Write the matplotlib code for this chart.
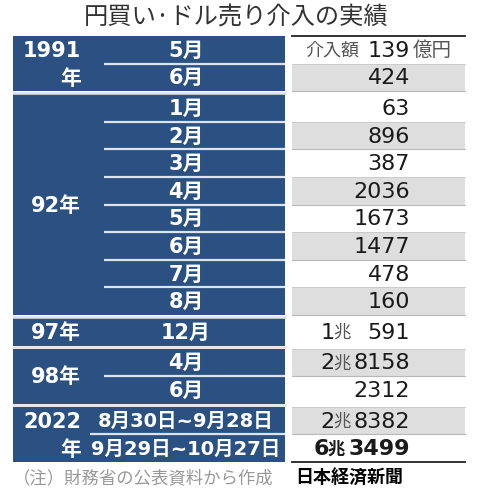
import matplotlib
matplotlib.use("Agg")
from matplotlib import pyplot as plt
from matplotlib.patches import Rectangle

plt.rcParams['font.family'] = ['Noto Sans CJK JP', 'DejaVu Sans']
NUMFONT = ['DejaVu Sans', 'Noto Sans CJK JP']

# data
years = ['1991\n年', '92年', '97年', '98年', '2022\n年']
periods = [
    ['5月', '6月'],
    ['1月', '2月', '3月', '4月', '5月', '6月', '7月', '8月'],
    ['12月'],
    ['4月', '6月'],
    ['8月30日~9月28日', '9月29日~10月27日'],
]
amounts = [139, 424, 63, 896, 387, 2036, 1673, 1477, 478, 160,
           10591, 28158, 2312, 28382, 63499]  # 億円
title = '円買い·ドル売り介入の実績'
note = '（注）財務省の公表資料から作成'
source = '日本経済新聞'

NAVY = '#2b5082'
SEP = '#dde4ee'
W, H = 493, 494

fig = plt.figure(figsize=(W / 100, H / 100), dpi=100)
ax = fig.add_axes([0, 0, 1, 1])
ax.set_xlim(0, W)
ax.set_ylim(H, 0)
ax.axis('off')

ax.text(236, 18, title, ha='center', va='center', fontsize=17.5, color='#333333')

top, row_h, gap = 36, 27.6, 3
left, mid, rl, rr = 13, 285, 292, 465
num_x = 410

y = top
k = 0
for g, (yr, pers) in enumerate(zip(years, periods)):
    gh = row_h * len(pers)
    ax.add_patch(Rectangle((left, y), mid - left, gh, color=NAVY, lw=0))
    # year label
    if '\n' in yr:
        a, b = yr.split('\n')
        ax.text(81, y + row_h / 2 + 1, a, ha='right', va='center', color='white',
                fontsize=15, fontweight='bold', family=NUMFONT)
        ax.text(81, y + row_h * 1.5 + 1, b, ha='right', va='center', color='white',
                fontsize=15, fontweight='bold')
    else:
        ax.text(81, y + gh / 2 + 1, yr, ha='right', va='center', color='white',
                fontsize=15, fontweight='bold', family=NUMFONT)
    sep_x = 90 if g == 4 else 104
    for i, p in enumerate(pers):
        ry = y + i * row_h
        if i > 0:
            ax.plot([sep_x, mid], [ry, ry], color=SEP, lw=1.6, solid_capstyle='butt')
        ax.text(186, ry + row_h / 2 + 1, p, ha='center', va='center', color='white',
                fontsize=14 if g == 4 else 15, fontweight='bold', family=NUMFONT)
        # right column
        if k % 2 == 1:
            ax.add_patch(Rectangle((rl, ry), rr - rl, row_h, color='#dedede', lw=0))
            ax.plot([rl, rr], [ry + row_h, ry + row_h], color='#b8b8b8', lw=0.8)
            ax.plot([rl, rr], [ry, ry], color='#c8c8c8', lw=0.6)
        v = amounts[k]
        bold = k == len(amounts) - 1
        cy = ry + row_h / 2 + 1
        fw = 'bold' if bold else 'normal'
        if v >= 10000:
            cho, rest = divmod(v, 10000)
            cx = 345 if bold else 351
            ax.text(num_x, cy, str(rest), ha='right', va='center', fontsize=16,
                    color='#1a1a1a', fontweight=fw, family=NUMFONT)
            ax.text(cx, cy, '兆', ha='right', va='center', fontsize=12.5,
                    color='#1a1a1a' if bold else '#555555', fontweight=fw)
            ax.text(cx - 16, cy, str(cho), ha='right', va='center', fontsize=16,
                    color='#1a1a1a', fontweight=fw, family=NUMFONT)
        else:
            ax.text(num_x, cy, str(v), ha='right', va='center', fontsize=16,
                    color='#1a1a1a', fontweight=fw, family=NUMFONT)
        if k == 0:
            ax.text(359, cy, '介入額', ha='right', va='center', fontsize=13,
                    color='#555555')
            ax.text(num_x + 3, cy, '億円', ha='left', va='center', fontsize=14,
                    color='#555555')
        k += 1
    y += gh
    if g < len(years) - 1:
        ax.plot([left, mid], [y + gap / 2, y + gap / 2], color=SEP, lw=1.8)
        y += gap

ax.plot([rl, rr], [top, top], color='#333333', lw=1.4)
ax.plot([rl, rr], [y, y], color='#333333', lw=1.4)

ax.text(left, 478, note, ha='left', va='center', fontsize=12.5, color='#999999')
ax.text(295, 478, source, ha='left', va='center', fontsize=13, color='black',
        fontweight='bold')

fig.savefig('out.png', dpi=100)
